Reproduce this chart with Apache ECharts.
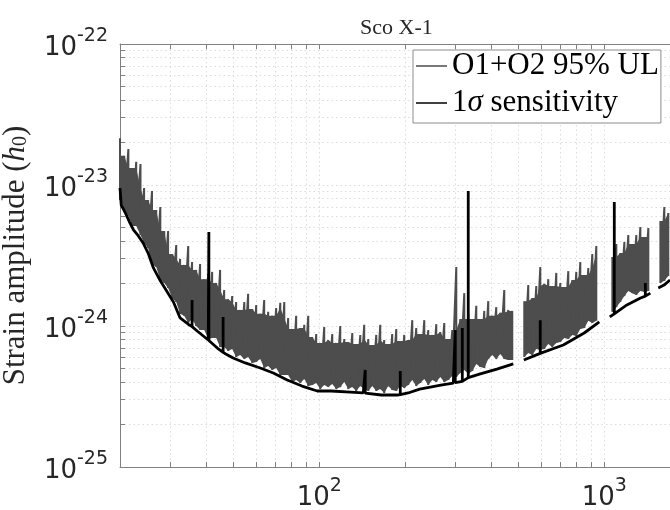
<!DOCTYPE html>
<html>
<head>
    <meta charset="utf-8">
    <title>Sco X-1</title>
    <script src="https://cdn.jsdelivr.net/npm/echarts@6/dist/echarts.min.js"></script>
    <style>
        html, body { margin: 0; padding: 0; background: #fff; }
        #chart1 { width: 670px; height: 510px; }
    </style>
</head>
<body>
<div id="chart1"></div>
<script type="text/javascript">
    // 频率 (Hz) 与上限数据，幅值单位 1e-25 (null = 数据断开)
    var ulFreq = [20.0, 20.7, 21.4, 22.1, 22.8, 23.6, 24.3, 25.1, 25.9, 26.8,
        27.7, 28.6, 29.5, 30.5, 31.5, 32.5, 33.6, 34.7, 35.8, 37.0,
        38.2, 39.5, 40.8, 42.1, 43.5, 44.9, 46.4, 47.9, 49.5, 51.1,
        52.8, 54.6, 56.3, 58.2, 60.1, 62.1, 64.1, 66.2, 68.4, 70.6,
        73.0, 75.4, 77.8, 80.4, 83.0, 85.8, 88.6, 91.5, 94.5, 97.6,
        100.8, 104.1, 107.5, 111.1, 114.7, 118.5, 122.4, 126.4, 130.6, 134.8,
        139.3, 143.8, 148.6, 153.5, 158.5, 163.7, 169.0, 174.6, 180.3, 186.3,
        192.4, 198.7, 205.2, 212.0, 218.9, 226.1, 233.6, 241.2, 249.2, 257.4,
        265.8, 274.5, 283.6, 292.9, 302.5, 312.5, 322.7, 333.3, 344.3, 355.6,
        367.2, 379.3, 391.7, 404.6, 417.8, 431.5, 445.7, 460.4, 475.5, 500,
        523.9, 541.1, 558.9, 577.2, 596.3, 615.8, 636.0, 657.0, 678.5, 700.9,
        723.8, 747.6, 772.2, 797.5, 823.7, 850.9, 878.8, 907.6, 937.4, 1000,
        1067, 1102, 1138, 1176, 1214, 1254, 1295, 1338, 1382, 1427, 1500,
        1573, 1624, 1677];
    var ulHi = [215, 161, 180, 132, 146, 141, 95.2, 78.3, 90.7, 66.5,
        69.8, 47.2, 47.2, 32.4, 37.5, 29.9, 27.1, 36.9, 28.4, 25.0,
        27.5, 21.5, 23.4, 24.2, 20.2, 25.0, 18.0, 15.5, 16.3, 14.8,
        13.0, 14.8, 16.9, 13.2, 14.1, 12.2, 15.3, 12.6, 11.8, 13.4,
        14.6, 14.8, 11.4, 9.52, 11.8, 9.68, 10.2, 11.8, 8.36, 8.78,
        7.58, 9.84, 7.96, 8.78, 7.58, 10.0, 8.09, 7.70, 8.92, 7.45,
        8.64, 10.2, 8.09, 7.33, 8.64, 10.2, 7.96, 7.45, 8.78, 9.52,
        7.83, 8.64, 7.96, 11.0, 9.68, 8.78, 11.0, 9.37, 8.64, 10.3,
        9.07, 10.5, 8.09, 9.37, 26.2, 11.2, 17.1, 12.2, 11.2, 13.9,
        11.2, 12.8, 15.0, 11.8, 13.6, 12.4, 18.0, 13.0, 12.8, null,
        15.0, 19.5, 15.8, 19.2, 26.2, 19.9, 21.5, 19.2, 23.8, 20.2,
        18.9, 24.5, 21.2, 24.2, 28.4, 23.0, 25.8, 32.4, 36.9, null,
        30.9, 38.1, 32.9, 39.4, 44.2, 38.1, 44.2, 50.4, 42.8, 49.5, null,
        55.5, 69.8, 63.3];
    var ulLo = [78.3, 67.6, 60.3, 51.2, 51.2, 44.2, 38.8, 35.7, 27.5, 26.2,
        21.2, 20.2, 18.6, 15.8, 14.8, 12.2, 11.8, 10.5, 11.2, 10.0,
        9.37, 9.37, 8.09, 8.22, 8.22, 7.10, 7.10, 6.65, 6.87, 6.03,
        6.23, 5.83, 6.03, 5.47, 5.56, 5.83, 5.04, 5.20, 4.88, 5.04,
        4.49, 4.49, 4.49, 4.01, 4.14, 3.94, 4.21, 3.75, 3.82, 3.94,
        3.57, 3.82, 3.69, 3.88, 3.57, 3.69, 4.01, 3.57, 3.69, 3.46,
        3.75, 3.57, 3.46, 3.75, 3.46, 3.57, 3.35, 3.75, 3.52, 3.46,
        3.75, 3.63, 3.82, 4.14, 3.75, 3.94, 4.21, 3.82, 4.14, 4.01,
        4.35, 4.01, 4.14, 4.42, 4.35, 4.64, 4.88, 4.57, 4.80, 5.38,
        5.12, 5.04, 5.83, 6.23, 5.83, 6.33, 5.83, 5.74, 5.74, null,
        6.03, 6.43, 6.23, 6.87, 6.76, 6.87, 7.45, 7.10, 7.58, 7.70,
        8.22, 8.09, 8.64, 8.50, 9.52, 9.68, 10.9, 10.5, 10.9, null,
        12.6, 13.6, 14.8, 16.3, 17.7, 17.1, 16.6, 17.7, 17.4, 17.7, null,
        20.2, 20.9, 22.6];

    // 1σ 灵敏度曲线 (同一频率重复出现的是竖直尖峰)，单位 1e-25
    var sensFreq = [20.0, 20.2, 20.9, 21.6, 22.3, 23.2, 24.1, 25.1, 26.2, 27.7,
        29.3, 30.8, 32.5, 34.7, 35.8, 35.8, 35.8, 37.3, 40.8, 41.0,
        41.0, 41.0, 43.9, 46.0, 46.0, 46.0, 47.0, 49.9, 55.0, 62.1,
        69.0, 77.2, 87.0, 98.4, 110, 128.5, 142.7, 145, 145, 145,
        165, 187.8, 192.4, 192.4, 192.4, 205, 225, 245.2, 270, 295.3,
        300, 300, 300, 317.6, 317.6, 317.6, 333.2, 333.2, 333.2, 367.2,
        420, 479.4, 500, 522, 596, 596, 596, 600, 718.2, 850,
        960.4, 1000, 1045, 1084, 1084, 1084, 1200, 1340, 1393, 1393,
        1393, 1450, 1500, 1547, 1620, 1700];
    var sensVal = [95.2, 72.1, 63.3, 54.6, 48.0, 43.5, 38.8, 32.9, 25.8, 20.9,
        17.4, 14.8, 11.4, 10.3, 9.9, 15.3, 9.9, 9.22, 7.96, 7.9,
        46.4, 7.9, 6.98, 6.5, 11.6, 6.5, 6.33, 5.93, 5.47, 5.04,
        4.64, 4.14, 3.75, 3.46, 3.46, 3.40, 3.35, 3.34, 4.88, 3.34,
        3.24, 3.24, 3.26, 4.8, 3.26, 3.35, 3.57, 3.69, 3.82, 3.94,
        3.96, 9.37, 3.96, 4.05, 9.68, 4.05, 4.3, 90.7, 4.3, 4.57,
        4.95, 5.38, null, 5.74, 6.40, 11.0, 6.40, 6.43, 7.33, 8.92,
        10.7, null, 11.6, 12.2, 75.8, 12.2, 14.1, 15.8, 16.3, 20.2,
        16.3, 17.1, null, 18.6, 19.5, 21.2];

    // 刻度与网格 (y 单位 1e-25)
    var xTickVals = [20, 30, 40, 50, 60, 70, 80, 90, 100, 200, 300, 400, 500, 600, 700, 800, 900, 1000];
    var xLabelVals = [100, 1000];
    var yTickVals = [1, 2, 3, 4, 5, 6, 7, 8, 9, 10, 20, 30, 40, 50, 60, 70, 80, 90,
        100, 200, 300, 400, 500, 600, 700, 800, 900, 1000];
    var yLabelVals = [1, 10, 100, 1000];
    var yUnitExp = -25;

    // 上限曲线: 每个频率一条竖线 (峰值 -> 底部)
    var ulData = [];
    for (var i = 0; i < ulFreq.length; i++) {
        if (ulHi[i] == null) { ulData.push([ulFreq[i], '-']); continue; }
        ulData.push([ulFreq[i], ulHi[i]]);
        ulData.push([ulFreq[i], ulLo[i]]);
    }
    // 连续的数据段，用于填充曲线的密集部分
    var segments = [];
    var cur = [];
    for (var i2 = 0; i2 < ulFreq.length; i2++) {
        if (ulHi[i2] == null) { if (cur.length) segments.push(cur); cur = []; }
        else cur.push(i2);
    }
    if (cur.length) segments.push(cur);
    var segData = segments.map(function (s, n) { return [ulFreq[s[0]], ulLo[s[0]], n]; });

    var sensData = [];
    for (var j = 0; j < sensFreq.length; j++) {
        sensData.push([sensFreq[j], sensVal[j] == null ? '-' : sensVal[j]]);
    }

    var tickFont = 'DejaVu Sans';
    var serif = 'Liberation Serif';
    var gridLine = { show: true, lineStyle: { color: '#dcdcdc', width: 1, type: [1.5, 3] } };
    var powLabel = function (offset) {
        return function (v) {
            var e = Math.log10(v);
            if (Math.abs(e - Math.round(e)) > 1e-6) return '';
            return '{b|10}{s|' + (Math.round(e) + offset) + '}';
        };
    };
    var powRich = {
        b: { fontFamily: tickFont, fontSize: 26, color: '#262626', lineHeight: 34, verticalAlign: 'bottom' },
        s: { fontFamily: tickFont, fontSize: 19, color: '#262626', lineHeight: 19, verticalAlign: 'top' }
    };

    var myChart1 = echarts.init(document.getElementById('chart1'));
    myChart1.setOption({
        animation: false,
        backgroundColor: '#fff',
        title: {
            text: 'Sco X-1',
            left: 355,
            top: 12,
            textStyle: { fontFamily: serif, fontSize: 22, fontWeight: 'normal', color: '#262626' }
        },
        grid: { left: 120, top: 44, right: 0, bottom: 43, containLabel: false, outerBoundsMode: 'none' },
        legend: {
            orient: 'vertical',
            left: 413,
            top: 50,
            padding: [0, 2, 4, 3],
            itemGap: 5,
            itemWidth: 31,
            itemHeight: 1.5,
            itemTextGap: 2,
            icon: 'rect',
            backgroundColor: '#fff',
            borderColor: '#8c8c8c',
            borderWidth: 1,
            formatter: function (name) { return name.replace('σ', '{i|σ}'); },
            textStyle: {
                fontFamily: serif, fontSize: 31, color: '#000', lineHeight: 32,
                rich: { i: { fontFamily: serif, fontSize: 31, fontStyle: 'italic', color: '#000' } }
            },
            data: ['O1+O2 95% UL', '1σ sensitivity']
        },
        xAxis: [{
            type: 'log', logBase: 10, min: 20, max: 1700,
            axisLine: { lineStyle: { color: '#808080' } },
            axisTick: { inside: true, length: 5, customValues: xTickVals, lineStyle: { color: '#808080' } },
            axisLabel: { customValues: xLabelVals, margin: 10, formatter: powLabel(0), rich: powRich },
            splitLine: gridLine
        }, {
            type: 'log', logBase: 10, min: 20, max: 1700, position: 'top',
            axisLine: { lineStyle: { color: '#808080' } },
            axisTick: { inside: true, length: 5, customValues: xTickVals, lineStyle: { color: '#808080' } },
            axisLabel: { show: false },
            splitLine: { show: false }
        }],
        yAxis: {
            type: 'log', logBase: 10, min: 1, max: 1000,
            name: 'Strain amplitude ({i|h}{sub|0})',
            nameLocation: 'middle',
            nameGap: 89,
            nameRotate: 90,
            nameTextStyle: {
                fontFamily: serif, fontSize: 31, color: '#262626',
                rich: {
                    i: { fontFamily: serif, fontSize: 31, fontStyle: 'italic', color: '#262626' },
                    sub: { fontFamily: serif, fontSize: 20, color: '#262626', verticalAlign: 'bottom' }
                }
            },
            axisLine: { show: true, lineStyle: { color: '#808080' } },
            axisTick: { show: true, inside: true, length: 5, customValues: yTickVals, lineStyle: { color: '#808080' } },
            axisLabel: { customValues: yLabelVals, margin: 12, formatter: powLabel(yUnitExp), rich: powRich },
            splitLine: gridLine
        },
        series: [{
            name: 'O1+O2 95% UL',
            type: 'line',
            data: ulData,
            symbol: 'none',
            connectNulls: false,
            color: '#4d4d4d',
            lineStyle: { color: '#4d4d4d', width: 2 }
        }, {
            // 上限曲线的密集部分：相邻峰值中较低者与底部之间填充
            type: 'custom',
            data: segData,
            encode: { x: 0, y: 1 },
            silent: true,
            clip: true,
            renderItem: function (params, api) {
                var s = segments[api.value(2)];
                var top = [], bot = [];
                for (var k = 0; k < s.length; k++) {
                    var a = s[Math.max(k - 1, 0)], b = s[k], c = s[Math.min(k + 1, s.length - 1)];
                    var h = Math.min(ulHi[a], ulHi[b], ulHi[c]);
                    top.push(api.coord([ulFreq[b], h]));
                    bot.unshift(api.coord([ulFreq[b], ulLo[b]]));
                }
                return {
                    type: 'polygon',
                    shape: { points: top.concat(bot) },
                    style: { fill: '#4d4d4d' }
                };
            }
        }, {
            name: '1σ sensitivity',
            type: 'line',
            data: sensData,
            symbol: 'none',
            connectNulls: false,
            color: '#000',
            lineStyle: { color: '#000', width: 2.8 }
        }]
    });
</script>
</body>
</html>
